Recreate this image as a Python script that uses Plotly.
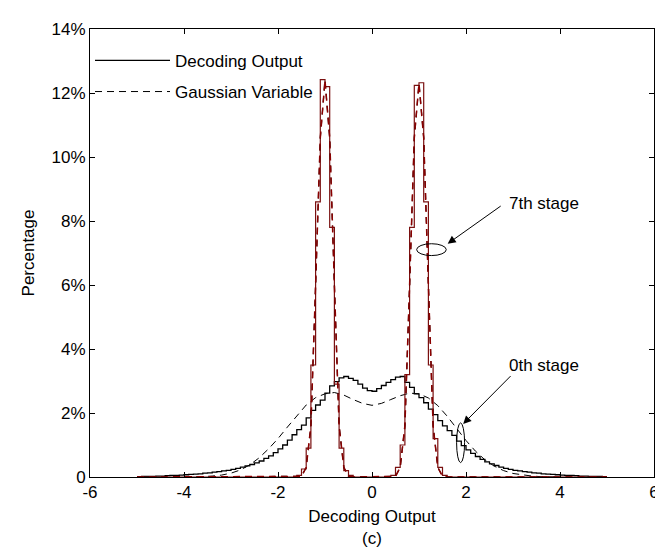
import numpy as np
import plotly.graph_objects as go

# ---------------- data ----------------
bin_lo, bin_hi, n_bins = -5.0, 5.0, 100

# 0th stage decoding output histogram (%), bin centres -4.95 ... -0.05
dec0_left = [0.01, 0.02, 0.02, 0.02, 0.03, 0.03, 0.04, 0.05, 0.05, 0.06,
             0.07, 0.08, 0.09, 0.10, 0.12, 0.13, 0.15, 0.17, 0.19, 0.21,
             0.24, 0.27, 0.31, 0.35, 0.39, 0.44, 0.50, 0.58, 0.66, 0.76,
             0.88, 1.00, 1.15, 1.32, 1.48, 1.62, 1.85, 2.08, 2.25, 2.40,
             2.62, 2.85, 2.98, 3.10, 3.14, 3.08, 3.02, 2.90, 2.78, 2.70]
# bin centres 0.05 ... 4.95
dec0_right = [2.68, 2.76, 2.86, 2.96, 3.04, 3.12, 3.14, 2.96, 2.80, 2.60,
              2.48, 2.32, 2.12, 1.95, 1.76, 1.60, 1.45, 1.30, 1.12, 0.98,
              0.85, 0.74, 0.64, 0.55, 0.47, 0.41, 0.36, 0.31, 0.27, 0.24,
              0.21, 0.19, 0.17, 0.15, 0.13, 0.12, 0.10, 0.09, 0.08, 0.07,
              0.06, 0.05, 0.05, 0.04, 0.03, 0.03, 0.02, 0.02, 0.02, 0.01]

# 0th stage Gaussian variable (%)
gauss0_x = [-4.0, -3.8, -3.6, -3.4, -3.2, -3.0, -2.8, -2.6, -2.4, -2.2, -2.0,
            -1.8, -1.6, -1.4, -1.2, -1.0, -0.8, -0.6, -0.4, -0.2, 0.0,
            0.2, 0.4, 0.6, 0.8, 1.0, 1.2, 1.4, 1.6, 1.8, 2.0,
            2.2, 2.4, 2.6, 2.8, 3.0, 3.2, 3.4, 3.6, 3.8, 4.0]
gauss0_y = [0.0, 0.0, 0.01, 0.03, 0.06, 0.12, 0.22, 0.38, 0.60, 0.88, 1.20,
            1.56, 1.92, 2.25, 2.48, 2.60, 2.64, 2.56, 2.42, 2.30, 2.24,
            2.30, 2.42, 2.54, 2.62, 2.60, 2.47, 2.23, 1.90, 1.51, 1.14,
            0.81, 0.54, 0.34, 0.20, 0.11, 0.06, 0.03, 0.01, 0.0, 0.0]

# 7th stage decoding output histogram (%), non-empty bins (centres)
dec7_centers = [-1.55, -1.45, -1.35, -1.25, -1.15, -1.05, -0.95, -0.85, -0.75, -0.65, -0.55, -0.45,
                0.45, 0.55, 0.65, 0.75, 0.85, 0.95, 1.05, 1.15, 1.25, 1.35, 1.45, 1.55]
dec7_vals = [0.05, 0.25, 0.9, 3.5, 8.6, 12.42, 12.2, 7.8, 2.9, 0.9, 0.2, 0.05,
             0.05, 0.3, 1.0, 3.2, 7.8, 12.24, 12.32, 8.6, 3.5, 1.2, 0.3, 0.05]

# 7th stage Gaussian variable (%)
gauss7_x = [-5.0, -1.6, -1.5, -1.4, -1.3, -1.2, -1.1, -1.0, -0.9, -0.8, -0.7, -0.6, -0.5, -0.4,
            0.4, 0.5, 0.6, 0.7, 0.8, 0.9, 1.0, 1.1, 1.2, 1.3, 1.4, 1.5, 1.6, 5.0]
gauss7_y = [0.0, 0.0, 0.02, 0.3, 1.6, 6.0, 10.6, 12.4, 10.6, 6.0, 1.6, 0.3, 0.02, 0.0,
            0.0, 0.02, 0.3, 1.6, 6.0, 10.6, 12.3, 10.6, 6.0, 1.6, 0.3, 0.02, 0.0, 0.0]

x_ticks = [-6, -4, -2, 0, 2, 4, 6]
x_ticktext = ['-6', '-4', '-2', '0', '2', '4', '6']
y_ticks = [0, 2, 4, 6, 8, 10, 12, 14]
y_ticktext = ['0', '2%', '4%', '6%', '8%', '10%', '12%', '14%']

# ---------------- build stairs ----------------
edges = np.round(np.linspace(bin_lo, bin_hi, n_bins + 1), 2)
dec0 = list(dec0_left) + list(dec0_right)
dec7 = [0.0] * n_bins
for c, v in zip(dec7_centers, dec7_vals):
    dec7[int(round((c - bin_lo) / 0.1 - 0.5))] = v

def stair(vals):
    return list(edges), list(vals) + [vals[-1]]

FONT = "Liberation Sans, Arial, sans-serif"
RED = "#7a1010"

fig = go.Figure()
sx, sy = stair(dec0)
fig.add_trace(go.Scatter(x=sx, y=sy, mode="lines", line_shape="hv",
                         line=dict(color="black", width=1.3),
                         name="Decoding Output", legendgroup="a"))
fig.add_trace(go.Scatter(x=gauss0_x, y=gauss0_y, mode="lines",
                         line=dict(color="black", width=1, dash="7px,5px"),
                         name="Gaussian Variable", legendgroup="b"))
sx7, sy7 = stair(dec7)
fig.add_trace(go.Scatter(x=sx7, y=sy7, mode="lines", line_shape="hv",
                         line=dict(color=RED, width=1.2),
                         showlegend=False))
fig.add_trace(go.Scatter(x=gauss7_x, y=gauss7_y, mode="lines",
                         line=dict(color="black", width=1.2, dash="6px,6px"),
                         showlegend=False))
fig.add_trace(go.Scatter(x=gauss7_x, y=gauss7_y, mode="lines",
                         line=dict(color="#8b0000", width=1.5, dash="7px,5px"),
                         showlegend=False))

# ellipses marking the curves
fig.add_shape(type="circle", xref="x", yref="y", x0=0.95, x1=1.58, y0=6.92, y1=7.29,
              line=dict(color="black", width=1))
fig.add_shape(type="circle", xref="x", yref="y", x0=1.80, x1=1.97, y0=0.45, y1=1.69,
              line=dict(color="black", width=1))

# arrows
for (hx, hy, tx, ty) in [(1.61, 7.29, 2.77, 8.5), (1.94, 1.66, 2.98, 3.2)]:
    fig.add_annotation(x=hx, y=hy, ax=tx, ay=ty, xref="x", yref="y", axref="x", ayref="y",
                       text="", showarrow=True, arrowhead=2, arrowsize=1.6, arrowwidth=1,
                       arrowcolor="black")
fig.add_annotation(x=2.87, y=8.56, xref="x", yref="y", text="7th stage", showarrow=False,
                   xanchor="left", yanchor="middle", font=dict(size=17, family=FONT, color="black"))
fig.add_annotation(x=2.87, y=3.5, xref="x", yref="y", text="0th stage", showarrow=False,
                   xanchor="left", yanchor="middle", font=dict(size=17, family=FONT, color="black"))

axis_common = dict(showline=True, linecolor="black", linewidth=1, mirror="ticks",
                   ticks="inside", ticklen=5, tickcolor="black", showgrid=False,
                   zeroline=False, tickfont=dict(size=17, family=FONT, color="black"))
fig.update_xaxes(range=[-6, 6], tickvals=x_ticks, ticktext=x_ticktext,
                 title=dict(text="Decoding Output<br>(c)", font=dict(size=17, family=FONT, color="black"),
                            standoff=8), **axis_common)
fig.update_yaxes(range=[0, 14], tickvals=y_ticks, ticktext=y_ticktext,
                 title=dict(text="Percentage", font=dict(size=17, family=FONT, color="black"),
                            standoff=12), **axis_common)

fig.update_layout(width=663, height=548, margin=dict(l=82, r=13, t=15, b=70),
                  plot_bgcolor="white", paper_bgcolor="white",
                  font=dict(family=FONT, size=17, color="black"),
                  legend=dict(x=0.0, y=0.969, xanchor="left", yanchor="top",
                              bgcolor="rgba(0,0,0,0)", tracegroupgap=6, itemwidth=75,
                              font=dict(size=17, family=FONT, color="black")))

fig.write_html("out.html")
